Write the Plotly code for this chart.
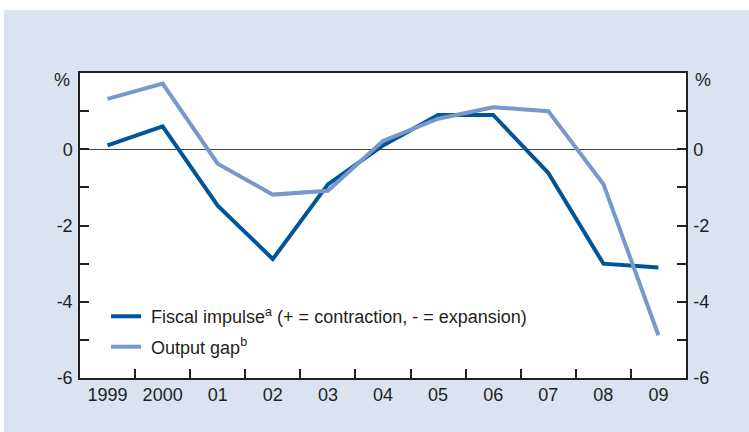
import plotly.graph_objects as go

years = ["1999", "2000", "01", "02", "03", "04", "05", "06", "07", "08", "09"]
fiscal_impulse = [0.1, 0.6, -1.48, -2.88, -0.92, 0.1, 0.9, 0.9, -0.62, -3.0, -3.1]
output_gap = [1.32, 1.72, -0.38, -1.19, -1.09, 0.22, 0.8, 1.1, 1.0, -0.91, -4.88]
y_major = [-6, -4, -2, 0]
y_major_text = ["-6", "-4", "-2", "0"]
y_minor = [-5, -3, -1, 1]

DARK = "#00549a"
LIGHT = "#7898cc"
BG = "#dce3f0"
FONT = dict(family="Liberation Sans, Arial, sans-serif", size=18, color="#231f20")

fig = go.Figure()
fig.add_trace(go.Scatter(
    x=years, y=fiscal_impulse, mode="lines",
    name="\u00a0Fiscal impulse<sup>a</sup> (+ = contraction, - = expansion)",
    line=dict(color=DARK, width=4), legendgroup="g1"))
fig.add_trace(go.Scatter(
    x=years, y=output_gap, mode="lines",
    name="\u00a0Output gap<sup>b</sup>",
    line=dict(color=LIGHT, width=4), legendgroup="g2"))
fig.add_trace(go.Scatter(
    x=years, y=[None] * len(years), yaxis="y2", showlegend=False,
    hoverinfo="skip", mode="lines"))

W, H = 749, 432
L, R, T, B = 80, 63, 73, 54
pw, ph = W - L - R, H - T - B

tickstyle = dict(ticks="inside", ticklen=9, tickwidth=1.5, tickcolor="#231f20")
yax = dict(range=[-6, 2], tickvals=y_major, ticktext=y_major_text, **tickstyle,
           minor=dict(tickvals=y_minor, **tickstyle),
           showline=True, linecolor="#231f20", linewidth=1.5,
           showgrid=False, automargin=False, ticklabelstandoff=2)

fig.update_layout(
    width=W, height=H,
    margin=dict(l=L, r=R, t=T, b=B, pad=0),
    paper_bgcolor=BG, plot_bgcolor="white",
    font=FONT,
    showlegend=True,
    legend=dict(x=0.043, y=0.262, xanchor="left", yanchor="top",
                bgcolor="rgba(0,0,0,0)", font=FONT, tracegroupgap=4,
                traceorder="grouped", itemwidth=30),
    xaxis=dict(type="category", tickson="boundaries", range=[-0.5, 10.5],
               **tickstyle,
               showline=True, linecolor="#231f20", linewidth=1.5, mirror=True,
               showgrid=False, zeroline=False, automargin=False,
               ticklabelstandoff=0),
    yaxis=dict(**yax, zeroline=True, zerolinecolor="#444444", zerolinewidth=1.2),
    yaxis2=dict(**yax, overlaying="y", side="right", zeroline=False),
)

# white outer frame strips (top and left)
fig.add_shape(type="rect", xref="paper", yref="paper", layer="below",
              x0=-L / pw, x1=(W - L) / pw, y0=1 + (T - 10) / ph, y1=1 + T / ph,
              fillcolor="white", line=dict(width=0))
fig.add_shape(type="rect", xref="paper", yref="paper", layer="below",
              x0=-L / pw, x1=-(L - 4) / pw, y0=-B / ph, y1=1 + T / ph,
              fillcolor="white", line=dict(width=0))

fig.add_annotation(text="%", xref="paper", yref="paper", x=-18 / pw, y=1 - 7 / ph,
                   xanchor="center", yanchor="middle", showarrow=False, font=FONT)
fig.add_annotation(text="%", xref="paper", yref="paper", x=1 + 17 / pw, y=1 - 7 / ph,
                   xanchor="center", yanchor="middle", showarrow=False, font=FONT)

fig.write_html("out.html", config={"displayModeBar": False},
               post_script="document.body.style.margin='0px';")
